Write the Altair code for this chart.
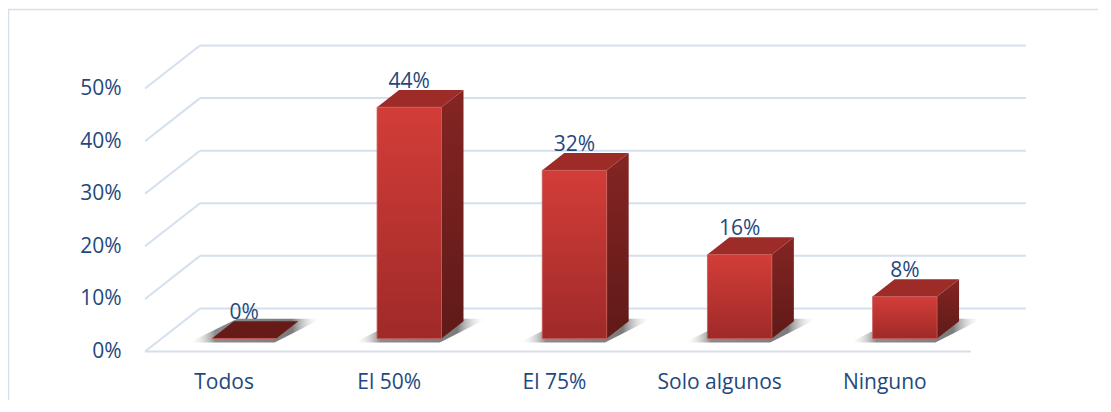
import altair as alt
import pandas as pd

# ---- data ----
categories = ["Todos", "El 50%", "El 75%", "Solo algunos", "Ninguno"]
values = [0, 44, 32, 16, 8]
y_ticks = [0, 10, 20, 30, 40, 50]

# ---- pseudo-3D geometry (style constants) ----
DX = 0.333      # full depth along x (category units)
DY = 8.19       # full depth along y (percent units)
Z0, Z1 = 0.30, 0.70   # bar depth range (fraction of full depth)
BW = 0.39       # front face width (category units)
X_MIN, X_MAX = -0.5, len(categories) - 0.5

TEXT = "#1F497D"
GRID = "#D5E0EE"
FONT = "Open Sans"
FS = 21

xs = alt.Scale(domain=[-0.5, 4.9], nice=False, zero=False)
ys = alt.Scale(domain=[0, 60], nice=False, zero=False)

label_expr = "[" + ",".join(f"'{c}'" for c in categories) + "][datum.value]"
xaxis = alt.Axis(values=list(range(len(categories))), labelExpr=label_expr, title=None,
                 domain=False, ticks=False, tickSize=0, grid=False,
                 labelPadding=37, labelBaseline="alphabetic", labelOffset=-4,
                 labelFont=FONT, labelFontSize=FS, labelColor=TEXT)
yaxis = alt.Axis(values=y_ticks, labelExpr="datum.value + '%'", title=None,
                 domain=False, ticks=False, tickSize=0, grid=False,
                 labelPadding=24, labelFont=FONT, labelFontSize=FS, labelColor=TEXT)

front_rows, side_rows, top_rows, lab_rows, shadow_rows = [], [], [], [], []
for i, (c, v) in enumerate(zip(categories, values)):
    xl = i + Z0 * DX - BW / 2
    xr = i + Z0 * DX + BW / 2
    sh_x = (Z1 - Z0) * DX
    front_rows.append(dict(i=i, cat=c, v=v, x=xl, x2=xr, y=Z0 * DY, y2=v + Z0 * DY))
    side_rows.append(dict(i=i, v=v, x=xr, lo=Z0 * DY, hi=v + Z0 * DY))
    side_rows.append(dict(i=i, v=v, x=xr + sh_x, lo=Z1 * DY, hi=v + Z1 * DY))
    top_rows.append(dict(i=i, v=v, y=v + Z0 * DY, xa=xl, xb=xr))
    top_rows.append(dict(i=i, v=v, y=v + Z1 * DY, xa=xl + sh_x, xb=xr + sh_x))
    lab_rows.append(dict(i=i, v=v, x=i + Z0 * DX, y=v + Z1 * DY, txt=f"{v}%"))
    # soft floor shadow footprint
    zf, zb = Z0 - 0.09, Z1 + 0.06
    shadow_rows.append(dict(i=i, y=zf * DY, xa=xl - 0.11 + (zf - Z0) * DX, xb=xr + (zf - Z0) * DX + 0.02))
    shadow_rows.append(dict(i=i, y=zb * DY, xa=xl + (zb - Z0) * DX, xb=xr + 0.12 + (zb - Z0) * DX))

front_df = pd.DataFrame(front_rows)
side_df = pd.DataFrame(side_rows)
top_df = pd.DataFrame(top_rows)
lab_df = pd.DataFrame(lab_rows)
shadow_df = pd.DataFrame(shadow_rows)

back_df = pd.DataFrame(dict(x=[X_MIN + DX] * len(y_ticks), x2=[X_MAX + DX] * len(y_ticks),
                            y=[t + DY for t in y_ticks]))
diag_df = pd.DataFrame(dict(x=[X_MIN] * len(y_ticks), x2=[X_MIN + DX] * len(y_ticks),
                            y=y_ticks, y2=[t + DY for t in y_ticks]))
base_df = pd.DataFrame(dict(x=[X_MIN], x2=[X_MAX], y=[0]))

front_grad = alt.Gradient(gradient="linear",
                          stops=[alt.GradientStop(color="#d33d39", offset=0),
                                 alt.GradientStop(color="#9f2a28", offset=1)],
                          x1=0, x2=0, y1=0, y2=1)
side_grad = alt.Gradient(gradient="linear",
                         stops=[alt.GradientStop(color="#842523", offset=0),
                                alt.GradientStop(color="#5f1a18", offset=1)],
                         x1=0, x2=0, y1=0, y2=1)
shadow_grad = alt.Gradient(gradient="linear",
                           stops=[alt.GradientStop(color="rgba(255,255,255,0)", offset=0),
                                  alt.GradientStop(color="rgba(120,120,120,0.85)", offset=0.2),
                                  alt.GradientStop(color="rgba(110,110,110,0.9)", offset=0.78),
                                  alt.GradientStop(color="rgba(255,255,255,0)", offset=1)],
                           x1=0, x2=1, y1=0, y2=0)

back = alt.Chart(back_df).mark_rule(color=GRID, strokeWidth=2).encode(
    x=alt.X("x:Q", scale=xs, axis=xaxis), x2="x2:Q", y=alt.Y("y:Q", scale=ys, axis=yaxis)
)
frame = alt.Chart(base_df).mark_rect(fill="white", fillOpacity=0, stroke="#D6DFEB", strokeWidth=1.5).encode(
    x=alt.value(-136.5), x2=alt.value(1100), y=alt.value(-26.5), y2=alt.value(600)
)
diag = alt.Chart(diag_df).mark_rule(color=GRID, strokeWidth=2).encode(
    x=alt.X("x:Q", scale=xs, axis=xaxis), x2="x2:Q",
    y=alt.Y("y:Q", scale=ys, axis=yaxis), y2="y2:Q"
)
base = alt.Chart(base_df).mark_rule(color=GRID, strokeWidth=2).encode(
    x=alt.X("x:Q", scale=xs, axis=xaxis), x2="x2:Q", y=alt.Y("y:Q", scale=ys, axis=yaxis)
)

shadow = alt.Chart(shadow_df).mark_area(orient="horizontal", interpolate="linear", fill=shadow_grad).encode(
    y=alt.Y("y:Q", scale=ys, axis=yaxis),
    x=alt.X("xa:Q", scale=xs, axis=xaxis), x2="xb:Q",
    detail="i:N",
)

front = alt.Chart(front_df).mark_rect(fill=front_grad, stroke="#c85a56", strokeWidth=0.8).encode(
    x=alt.X("x:Q", scale=xs, axis=xaxis), x2="x2:Q",
    y=alt.Y("y:Q", scale=ys, axis=yaxis), y2="y2:Q",
)

side = alt.Chart(side_df).mark_area(fill=side_grad, interpolate="linear").encode(
    x=alt.X("x:Q", scale=xs, axis=xaxis),
    y=alt.Y("lo:Q", scale=ys, axis=yaxis), y2="hi:Q",
    detail="i:N",
)

top = alt.Chart(top_df).mark_area(orient="horizontal", interpolate="linear").encode(
    y=alt.Y("y:Q", scale=ys, axis=yaxis),
    x=alt.X("xa:Q", scale=xs, axis=xaxis), x2="xb:Q",
    detail="i:N",
    color=alt.condition("datum.v == 0", alt.value("#661b19"), alt.value("#9d2b28")),
)

labels = alt.Chart(lab_df).mark_text(font=FONT, fontSize=FS, color=TEXT, baseline="alphabetic",
                                     align="center", dy=-2).encode(
    x=alt.X("x:Q", scale=xs, axis=xaxis), y=alt.Y("y:Q", scale=ys, axis=yaxis), text="txt:N"
)

chart = alt.layer(back, frame, diag, base, shadow, side, top, front, labels).properties(
    width=892, height=315.5,
    autosize=alt.AutoSizeParams(type="none"),
    padding={"left": 137, "top": 28, "right": 61, "bottom": 48},
    background="white",
).configure_view(stroke=None)

chart.save("out.html", embed_options={"renderer": "svg", "actions": False})
